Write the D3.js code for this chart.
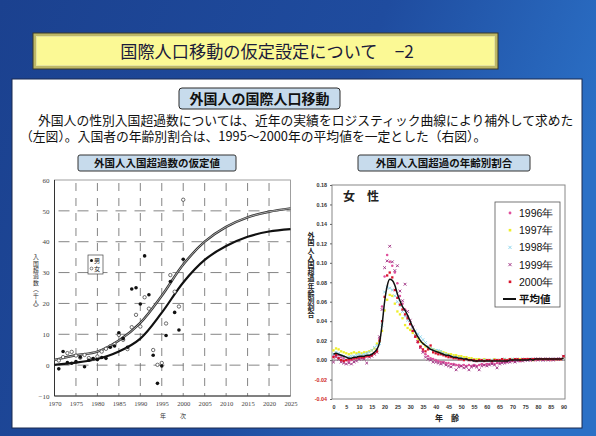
<!DOCTYPE html>
<html><head><meta charset="utf-8">
<script src="https://cdn.jsdelivr.net/npm/d3@7"></script>
<style>html,body{margin:0;padding:0;background:#1f4a9a;} svg{display:block}</style>
</head><body><svg id="c" width="596" height="436"></svg>
<script>
// ---- Left chart: net immigration of foreigners (thousand persons) ----
const obsYears = d3.range(1971, 2001);
const maleObs = [-1.2, 4.4, 0.8, 0.6, 1.2, 2.6, -0.5, 1.6, 2.1, 1.8,
  2.5, 2.2, 5.8, 6.2, 10.5, 8.6, 5.8, 24.7, 25.1, 19.8,
  35.4, 22.8, 3.2, -5.9, -0.3, 9.6, 27.1, 17.1, 11.4, 34.3];
const femaleObs = [1.5, 2.6, 3.9, 4.3, 3.1, 2.4, 3.3, 2.3, 2.0, 2.8,
  4.4, 5.3, 6.1, 6.8, 9.8, 8.2, 5.2, 12.3, 16.3, 12.5,
  22.0, 18.3, 4.9, 0.1, 0.7, 13.5, 29.2, 23.8, 19.0, 53.6];
const fitYears = [1970, 1975, 1980, 1985, 1990, 1995, 2000, 2005, 2010, 2015, 2020, 2025];
const maleFit = [0.1, 0.8, 2.0, 4.4, 8.6, 17.0, 26.8, 34.1, 38.6, 41.6, 43.3, 44.1];
const femaleFit = [1.7, 3.2, 4.4, 8.0, 13.7, 22.5, 32.6, 40.0, 44.8, 47.9, 49.7, 50.8];
const leftYTicks = [-10, 0, 10, 20, 30, 40, 50, 60];
const leftXTicks = d3.range(1970, 2026, 5);

// ---- Right chart: age distribution of female net immigrants ----
const ages = d3.range(0, 91);
const y1996 = [0.004,0.006,0.005,0.003,0.002,0.000,-0.001,0.000,0.001,0.002,
  0.003,0.002,0.003,0.004,0.004,0.005,0.007,0.011,0.022,0.055,
  0.086,0.108,0.101,0.097,0.090,0.079,0.066,0.058,0.052,0.045,
  0.037,0.030,0.024,0.018,0.013,0.009,0.006,0.004,0.002,0.001,
  0.000,-0.001,-0.002,-0.002,-0.003,-0.003,-0.004,-0.004,-0.005,-0.005,
  -0.006,-0.005,-0.006,-0.005,-0.006,-0.005,-0.006,-0.005,-0.004,-0.005,
  -0.004,-0.004,-0.003,-0.004,-0.003,-0.003,-0.002,-0.002,-0.002,-0.001,
  -0.001,-0.001,0.000,-0.001,0.000,0.000,0.001,0.000,0.001,0.000,
  0.001,0.001,0.000,0.001,0.001,0.000,0.001,0.001,0.001,0.001,0.003];
const y1997 = [0.010,0.012,0.011,0.009,0.008,0.007,0.006,0.007,0.008,0.007,
  0.008,0.007,0.008,0.008,0.009,0.010,0.012,0.017,0.019,0.030,
  0.051,0.062,0.067,0.066,0.058,0.050,0.047,0.043,0.036,0.033,
  0.031,0.028,0.025,0.022,0.019,0.017,0.014,0.013,0.012,0.011,
  0.010,0.009,0.009,0.008,0.007,0.006,0.006,0.005,0.005,0.004,
  0.004,0.003,0.003,0.002,0.002,0.001,0.001,0.001,0.000,0.001,
  0.000,0.000,0.000,0.001,0.000,0.000,0.000,0.001,0.000,0.001,
  0.001,0.000,0.001,0.001,0.000,0.001,0.001,0.001,0.000,0.001,
  0.001,0.001,0.001,0.001,0.001,0.001,0.001,0.001,0.001,0.001,0.003];
const y1998 = [0.006,0.008,0.007,0.005,0.004,0.003,0.003,0.004,0.004,0.005,
  0.006,0.005,0.006,0.007,0.008,0.010,0.013,0.015,0.017,0.036,
  0.070,0.075,0.074,0.072,0.066,0.060,0.056,0.050,0.045,0.041,
  0.037,0.033,0.030,0.027,0.024,0.021,0.018,0.014,0.012,0.011,
  0.010,0.010,0.009,0.007,0.006,0.005,0.004,0.003,0.003,0.002,
  0.002,0.001,0.001,0.000,0.000,0.000,-0.001,0.000,-0.001,0.000,
  0.000,-0.001,0.000,0.000,0.000,0.000,0.000,0.001,0.000,0.000,
  0.001,0.000,0.001,0.000,0.001,0.001,0.000,0.001,0.001,0.001,
  0.001,0.001,0.000,0.001,0.001,0.001,0.001,0.001,0.001,0.001,0.003];
const y1999 = [-0.002,0.003,0.001,-0.002,-0.003,-0.004,-0.003,-0.004,-0.002,-0.001,
  0.001,0.002,0.001,-0.003,0.003,0.004,0.006,0.008,0.024,0.052,
  0.095,0.102,0.117,0.101,0.092,0.097,0.071,0.061,0.078,0.050,
  0.041,0.034,0.025,0.019,0.013,0.008,0.003,0.001,0.000,-0.002,
  -0.002,-0.003,-0.004,-0.003,-0.005,-0.006,-0.007,-0.005,-0.010,-0.007,
  -0.006,-0.008,-0.007,-0.010,-0.007,-0.006,-0.007,-0.010,-0.006,-0.005,
  -0.006,-0.005,-0.004,-0.005,-0.008,-0.004,-0.003,-0.003,-0.002,-0.002,
  -0.001,-0.002,-0.001,0.000,-0.001,0.000,0.000,0.000,0.000,0.001,
  0.000,0.001,0.000,0.001,0.000,0.001,0.000,0.001,0.001,0.001,0.004];
const y2000 = [0.003,0.005,0.002,0.000,-0.001,0.000,0.001,0.001,0.002,0.002,
  0.003,0.003,0.003,0.004,0.004,0.005,0.007,0.009,0.020,0.040,
  0.065,0.087,0.090,0.085,0.072,0.064,0.057,0.052,0.047,0.043,
  0.037,0.030,0.024,0.019,0.014,0.011,0.009,0.011,0.015,0.008,
  0.007,0.006,0.006,0.005,0.004,0.003,0.003,0.002,0.002,0.001,
  0.001,0.000,0.001,0.000,0.000,0.000,-0.001,0.000,0.000,-0.001,
  0.000,0.000,-0.001,0.000,0.000,0.000,0.001,0.000,0.000,0.001,
  0.000,0.001,0.001,0.000,0.001,0.001,0.001,0.001,0.001,0.001,
  0.001,0.001,0.001,0.001,0.001,0.001,0.001,0.001,0.001,0.001,0.004];
const yMean = [0.006,0.007,0.006,0.005,0.004,0.003,0.002,0.002,0.003,0.003,
  0.004,0.004,0.004,0.005,0.005,0.006,0.008,0.011,0.018,0.036,
  0.060,0.076,0.083,0.082,0.077,0.068,0.061,0.055,0.051,0.046,
  0.040,0.034,0.029,0.024,0.020,0.017,0.015,0.013,0.011,0.010,
  0.009,0.008,0.007,0.006,0.005,0.005,0.004,0.003,0.003,0.002,
  0.002,0.001,0.001,0.000,0.000,-0.001,-0.001,-0.001,-0.001,-0.001,
  -0.001,-0.001,-0.001,-0.001,-0.001,-0.001,-0.001,-0.001,-0.001,0.000,
  0.000,0.000,0.000,0.000,0.000,0.000,0.000,0.001,0.000,0.001,
  0.001,0.001,0.001,0.001,0.001,0.001,0.001,0.001,0.001,0.001,0.002];
const rightYTicks = [-0.04, -0.02, 0, 0.02, 0.04, 0.06, 0.08, 0.10, 0.12, 0.14, 0.16, 0.18];
const rightXTicks = d3.range(0, 91, 5);
const seriesNames = ["1996年", "1997年", "1998年", "1999年", "2000年"];
const seriesColors = ["#e0509c", "#eeee2a", "#86d2ec", "#9c2a7e", "#d8142c"];
const seriesShapes = ["dot", "square", "cross", "cross", "square"];

// ---- Slide texts ----
const titleText = "国際人口移動の仮定設定について　−2";
const subTitle = "外国人の国際人口移動";
const bodyLines = [
  "外国人の性別入国超過数については、近年の実績をロジスティック曲線により補外して求めた",
  "（左図）。入国者の年齢別割合は、1995～2000年の平均値を一定とした（右図）。"
];
const leftHeader = "外国人入国超過数の仮定値";
const rightHeader = "外国人入国超過の年齢別割合";

const JP = "'Noto Sans CJK JP','Noto Sans',sans-serif";
const SERIF = "'Liberation Serif','DejaVu Serif',serif";
const SANS = "'Liberation Sans',Arial,sans-serif";

const svg = d3.select("#c");
const defs = svg.append("defs");
const bg = defs.append("linearGradient").attr("id", "bg").attr("x1", 0).attr("y1", 0).attr("x2", 1).attr("y2", 0.3);
bg.append("stop").attr("offset", 0).attr("stop-color", "#1b418f");
bg.append("stop").attr("offset", 0.6).attr("stop-color", "#1f4c9f");
bg.append("stop").attr("offset", 1).attr("stop-color", "#2b70c6");
svg.append("rect").attr("width", 596).attr("height", 436).attr("fill", "url(#bg)");

// white content panel
svg.append("rect").attr("x", 12).attr("y", 79).attr("width", 570).attr("height", 349)
  .attr("fill", "#ffffff").attr("stroke", "#1a2a50").attr("stroke-width", 1);

// title plate with bevel
svg.append("rect").attr("x", 33).attr("y", 33).attr("width", 465).attr("height", 36)
  .attr("fill", "#bdb866").attr("stroke", "#3a3a2a").attr("stroke-width", 1);
svg.append("rect").attr("x", 36.5).attr("y", 36.5).attr("width", 458).attr("height", 29)
  .attr("fill", "#fbf995").attr("stroke", "#e8e6a8").attr("stroke-width", 0.8);
svg.append("text").attr("x", 267).attr("y", 57.5).attr("text-anchor", "middle")
  .attr("font-family", JP).attr("font-size", 17.2).attr("fill", "#1b1b3a").text(titleText);

// subtitle pill
svg.append("rect").attr("x", 179).attr("y", 88).attr("width", 161).attr("height", 21).attr("rx", 3)
  .attr("fill", "#c7dbec").attr("stroke", "#2a2a2a").attr("stroke-width", 1);
svg.append("text").attr("x", 259.5).attr("y", 103.5).attr("text-anchor", "middle")
  .attr("font-family", JP).attr("font-weight", "bold").attr("font-size", 14).attr("fill", "#111").text(subTitle);

// body paragraph (two lines in one text block)
const body = svg.append("text").attr("font-family", JP).attr("font-size", 12.8).attr("fill", "#111");
body.append("tspan").attr("x", 38).attr("y", 125).text(bodyLines[0]);
body.append("tspan").attr("x", 20).attr("y", 141).text(bodyLines[1]);

// section headers
function header(x, w, txt) {
  svg.append("rect").attr("x", x).attr("y", 155).attr("width", w).attr("height", 16).attr("rx", 2)
    .attr("fill", "#c7dbec").attr("stroke", "#333").attr("stroke-width", 1);
  svg.append("text").attr("x", x + w / 2).attr("y", 167).attr("text-anchor", "middle")
    .attr("font-family", JP).attr("font-weight", "bold").attr("font-size", 10.5).attr("fill", "#111").text(txt);
}
header(78, 158, leftHeader);
header(358, 172, rightHeader);

// vertical (top-to-bottom) axis title
function vtext(g, str, x, y0, size, spacing, weight, fill) {
  g.append("text").attr("x", x).attr("y", y0)
    .style("writing-mode", "vertical-rl").style("letter-spacing", spacing + "px")
    .attr("font-family", JP).attr("font-size", size).attr("font-weight", weight).attr("fill", fill).text(str);
}

// ================= Left chart =================
const L = svg.append("g");
const lx = d3.scaleLinear().domain([1970, 2025]).range([54.5, 290.5]);
const ly = d3.scaleLinear().domain([-10, 60]).range([396, 180]);

// dashed grid
L.selectAll(".vg").data(leftXTicks.slice(1, -1)).join("line")
  .attr("x1", d => lx(d)).attr("x2", d => lx(d)).attr("y1", ly(60)).attr("y2", ly(-10))
  .attr("stroke", "#666").attr("stroke-width", 0.8).attr("stroke-dasharray", "8,7").attr("stroke-dashoffset", -3);
L.selectAll(".hg").data(leftYTicks.slice(1, -1)).join("line")
  .attr("x1", lx(1970)).attr("x2", lx(2025)).attr("y1", d => ly(d)).attr("y2", d => ly(d))
  .attr("stroke", "#666").attr("stroke-width", 0.8).attr("stroke-dasharray", "11,8").attr("stroke-dashoffset", -4);
L.append("rect").attr("x", lx(1970)).attr("y", ly(60)).attr("width", lx(2025) - lx(1970)).attr("height", ly(-10) - ly(60))
  .attr("fill", "none").attr("stroke", "#888").attr("stroke-width", 0.8);
L.append("line").attr("x1", lx(1970)).attr("x2", lx(1970)).attr("y1", ly(60)).attr("y2", ly(-10)).attr("stroke", "#333").attr("stroke-width", 1);
L.append("line").attr("x1", lx(1970)).attr("x2", lx(2025)).attr("y1", ly(-10)).attr("y2", ly(-10)).attr("stroke", "#333").attr("stroke-width", 1);

// axes
const lyAxis = L.append("g").attr("transform", `translate(${lx(1970)},0)`)
  .call(d3.axisLeft(ly).tickValues(leftYTicks).tickSize(0).tickPadding(5));
const lxAxis = L.append("g").attr("transform", `translate(0,${ly(-10)})`)
  .call(d3.axisBottom(lx).tickValues(leftXTicks).tickFormat(d3.format("d")).tickSize(0).tickPadding(5));
[lyAxis, lxAxis].forEach(a => {
  a.select(".domain").remove();
  a.selectAll("text").attr("font-family", SERIF).attr("font-size", 7).attr("fill", "#444");
});
lxAxis.selectAll("text").attr("font-size", 6.6);
const yearLbl = L.append("text").attr("text-anchor", "middle").attr("font-family", JP).attr("font-size", 6).attr("fill", "#333");
yearLbl.append("tspan").attr("x", 163).attr("y", 418).text("年");
yearLbl.append("tspan").attr("x", 183).attr("y", 418).text("次");
vtext(L, "入国超過数（千人）", 36, 254, 5.8, 0.6, "normal", "#333");

// fitted logistic curves
const fitLine = vals => d3.line().x((d, i) => lx(fitYears[i])).y(d => ly(d)).curve(d3.curveCatmullRom.alpha(0.5))(vals);
L.append("path").attr("d", fitLine(femaleFit)).attr("fill", "none").attr("stroke", "#333").attr("stroke-width", 2.4);
L.append("path").attr("d", fitLine(femaleFit)).attr("fill", "none").attr("stroke", "#ddd").attr("stroke-width", 0.7);
L.append("path").attr("d", fitLine(maleFit)).attr("fill", "none").attr("stroke", "#111").attr("stroke-width", 2.2);

// observations
L.selectAll(".fo").data(femaleObs).join("circle")
  .attr("cx", (d, i) => lx(obsYears[i])).attr("cy", d => ly(d)).attr("r", 1.7)
  .attr("fill", "#fff").attr("stroke", "#333").attr("stroke-width", 0.7);
L.selectAll(".mo").data(maleObs).join("circle")
  .attr("cx", (d, i) => lx(obsYears[i])).attr("cy", d => ly(d)).attr("r", 1.8).attr("fill", "#111");

// legend
L.append("rect").attr("x", 88).attr("y", 255).attr("width", 15).attr("height", 19)
  .attr("fill", "#fff").attr("stroke", "#444").attr("stroke-width", 0.7);
L.append("circle").attr("cx", 91.5).attr("cy", 260.5).attr("r", 1.5).attr("fill", "#111");
L.append("circle").attr("cx", 91.5).attr("cy", 268.5).attr("r", 1.4).attr("fill", "#fff").attr("stroke", "#333").attr("stroke-width", 0.6);
const sexLbl = L.append("text").attr("font-family", JP).attr("font-size", 6.2).attr("fill", "#222");
sexLbl.append("tspan").attr("x", 94).attr("y", 263).text("男");
sexLbl.append("tspan").attr("x", 94).attr("y", 271).text("女");

// ================= Right chart =================
const R = svg.append("g");
const rx = d3.scaleLinear().domain([0, 90]).range([333.5, 563.5]);
const ry = d3.scaleLinear().domain([-0.04, 0.18]).range([399, 185]);

R.append("rect").attr("x", 332).attr("y", 185).attr("width", 233).attr("height", 214)
  .attr("fill", "#fff").attr("stroke", "#888").attr("stroke-width", 1);
R.append("line").attr("x1", 332).attr("x2", 565).attr("y1", ry(0)).attr("y2", ry(0)).attr("stroke", "#444").attr("stroke-width", 0.8);

const ryAxis = R.append("g").attr("transform", "translate(332,0)")
  .call(d3.axisLeft(ry).tickValues(rightYTicks).tickFormat(d => d3.format(".2f")(d).replace("−", "-")).tickSize(2).tickPadding(3));
ryAxis.select(".domain").remove();
ryAxis.selectAll("line").attr("stroke", "#666");
ryAxis.selectAll("text").attr("font-family", SANS).attr("font-weight", "bold").attr("font-size", 5.4)
  .attr("fill", d => d < 0 ? "#d02626" : "#333");
const rxAxis = R.append("g").attr("transform", "translate(0,399)")
  .call(d3.axisBottom(rx).tickValues(rightXTicks).tickSize(0).tickPadding(6));
rxAxis.select(".domain").remove();
rxAxis.selectAll("text").attr("font-family", SANS).attr("font-weight", "bold").attr("font-size", 5.4).attr("fill", "#333");

R.append("text").attr("x", 447).attr("y", 421).attr("text-anchor", "middle").attr("font-family", JP)
  .attr("font-weight", "bold").attr("font-size", 8).attr("fill", "#222").text("年　齢");
vtext(R, "外国人入国超過年齢別割合", 311, 232, 7, 0.2, "bold", "#222");
R.append("text").attr("x", 343).attr("y", 201).attr("font-family", JP).attr("font-weight", "bold")
  .attr("font-size", 12).attr("fill", "#222").text("女　性");

function marker(g, shape, color, cx, cy, s) {
  if (shape === "dot") {
    g.append("circle").attr("cx", cx).attr("cy", cy).attr("r", s * 0.55).attr("fill", color);
  } else if (shape === "square") {
    g.append("rect").attr("x", cx - s / 2).attr("y", cy - s / 2).attr("width", s).attr("height", s).attr("fill", color);
  } else {
    const h = s * 0.6;
    g.append("path").attr("d", `M${cx - h},${cy - h}L${cx + h},${cy + h}M${cx - h},${cy + h}L${cx + h},${cy - h}`)
      .attr("stroke", color).attr("stroke-width", 0.9).attr("fill", "none");
  }
}

const series = [y1996, y1997, y1998, y1999, y2000];
const pts = R.append("g");
series.forEach((vals, k) => {
  vals.forEach((v, i) => marker(pts, seriesShapes[k], seriesColors[k], rx(ages[i]), ry(v), 2.3));
});
R.append("path").attr("d", d3.line().x((d, i) => rx(ages[i])).y(d => ry(d)).curve(d3.curveMonotoneX)(yMean))
  .attr("fill", "none").attr("stroke", "#111").attr("stroke-width", 1.5);

// legend
const lg = R.append("g");
lg.append("rect").attr("x", 495).attr("y", 202).attr("width", 65).attr("height", 105)
  .attr("fill", "#fff").attr("stroke", "#555").attr("stroke-width", 0.8);
seriesNames.forEach((n, k) => {
  const yy = 213 + k * 17.2;
  marker(lg, seriesShapes[k], seriesColors[k], 510, yy, 2.6);
  lg.append("text").attr("x", 519).attr("y", yy + 4).attr("font-family", SANS).attr("font-size", 10.5).attr("fill", "#111").text(n);
});
lg.append("line").attr("x1", 503).attr("x2", 516).attr("y1", 299).attr("y2", 299).attr("stroke", "#111").attr("stroke-width", 2);
lg.append("text").attr("x", 519).attr("y", 303).attr("font-family", JP).attr("font-weight", "bold").attr("font-size", 10.5).attr("fill", "#111").text("平均値");
</script></body></html>
